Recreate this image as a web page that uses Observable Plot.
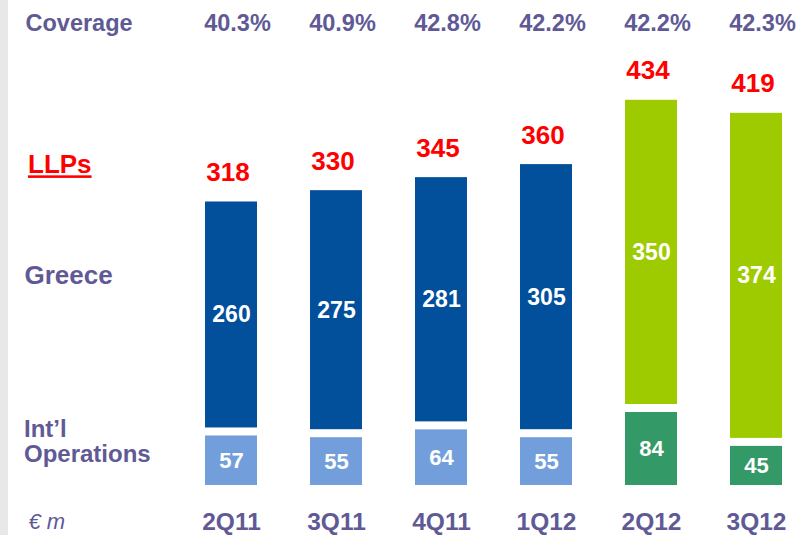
<!DOCTYPE html>
<html><head><meta charset="utf-8">
<script src="https://cdn.jsdelivr.net/npm/d3@7"></script>
<script src="https://cdn.jsdelivr.net/npm/@observablehq/plot@0.6"></script>
<style>
body{margin:0;background:#fff;}
#wrap{position:relative;width:800px;height:535px;overflow:hidden;background:#fff}
#strip{position:absolute;left:0;top:0;width:8px;height:535px;background:#e8e8e8}
g[aria-label="x-axis tick label"] text{font-weight:bold}
</style></head><body><div id="wrap"><div id="strip"></div></div>
<script>
const quarters = ["2Q11","3Q11","4Q11","1Q12","2Q12","3Q12"];
const coverage = [40.3, 40.9, 42.8, 42.2, 42.2, 42.3];
const llps     = [318, 330, 345, 360, 434, 419];
const greece   = [260, 275, 281, 305, 350, 374];
const intl     = [57, 55, 64, 55, 84, 45];
const firstNewQuarter = "2Q12";

const GAP = 9.2; // visual gap between segments, in value units
const newIdx = quarters.indexOf(firstNewQuarter);
const rows = quarters.map((q, i) => ({q, cov: coverage[i], llp: llps[i], gr: greece[i], intl: intl[i], isNew: i >= newIdx}));

const font = "Arial, 'Liberation Sans', sans-serif";
const purple = "#5f5a96";
const red = "#ff0000";
const cDarkBlue = "#024f9c", cLightBlue = "#729fdb", cLime = "#9dcb00", cGreen = "#339966";

const chart = Plot.plot({
  width: 800, height: 535,
  marginTop: 0, marginLeft: 0, marginRight: 0, marginBottom: 50,
  style: {fontFamily: font, background: "transparent", overflow: "visible"},
  x: {type: "band", domain: quarters, range: [176.1, 810.9], paddingInner: 0.508, paddingOuter: 0.254, axis: null},
  y: {domain: [0, 558], axis: null},
  color: {type: "identity"},
  marks: [
    Plot.barY(rows, {x: "q", y1: 0, y2: "intl", fill: d => d.isNew ? cGreen : cLightBlue}),
    Plot.barY(rows, {x: "q", y1: d => d.intl + GAP, y2: d => d.intl + GAP + d.gr, fill: d => d.isNew ? cLime : cDarkBlue}),
    Plot.text(rows, {x: "q", y: d => d.intl / 2, text: d => String(d.intl), fill: "white", fontSize: 22, fontWeight: "bold"}),
    Plot.text(rows, {x: "q", y: d => d.intl + GAP + d.gr / 2, text: d => String(d.gr), fill: "white", fontSize: 23, fontWeight: "bold"}),
    Plot.text(rows, {x: "q", y: d => d.intl + GAP + d.gr, text: d => String(d.llp), fill: red, fontSize: 26, fontWeight: "bold", lineAnchor: "bottom", dy: -21, dx: -3.5}),
    Plot.text(rows, {x: "q", text: d => d.cov.toFixed(1) + "%", frameAnchor: "top", dy: 22.5, dx: 6, lineAnchor: "middle", fill: purple, fontSize: 23.5, fontWeight: "bold"}),
    Plot.axisX({anchor: "bottom", tickSize: 0, tickPadding: 27, fontSize: 24.5, fontWeight: "bold", color: purple, label: null}),
    Plot.text(["Coverage"], {text: d => d, frameAnchor: "top-left", dx: 25, dy: 22.5, textAnchor: "start", lineAnchor: "middle", fill: purple, fontSize: 23.5, fontWeight: "bold"}),
    Plot.text(["LLPs"], {text: d => d, frameAnchor: "top-left", dx: 27.5, dy: 164.5, textAnchor: "start", lineAnchor: "middle", fill: red, fontSize: 26, fontWeight: "bold"}),
    Plot.text(["Greece"], {text: d => d, frameAnchor: "top-left", dx: 24, dy: 275, textAnchor: "start", lineAnchor: "middle", fill: purple, fontSize: 26, fontWeight: "bold"}),
    Plot.text(["Int\u2019l\nOperations"], {text: d => d, frameAnchor: "top-left", dx: 23.5, dy: 441, textAnchor: "start", lineAnchor: "middle", lineHeight: 1.05, fill: purple, fontSize: 24, fontWeight: "bold"}),
    Plot.text(["\u20ac m"], {text: d => d, frameAnchor: "top-left", dx: 28, dy: 521, textAnchor: "start", lineAnchor: "middle", fill: purple, fontSize: 22, fontStyle: "italic"})
  ]
});
chart.querySelectorAll("text").forEach(t => {
  if (t.textContent === "LLPs") {
    t.setAttribute("text-decoration", "underline");
    t.style.textDecoration = "underline";
    t.style.textDecorationThickness = "3px";
    t.style.textUnderlineOffset = "2px";
  }
});
document.getElementById("wrap").appendChild(chart);
</script></body></html>
